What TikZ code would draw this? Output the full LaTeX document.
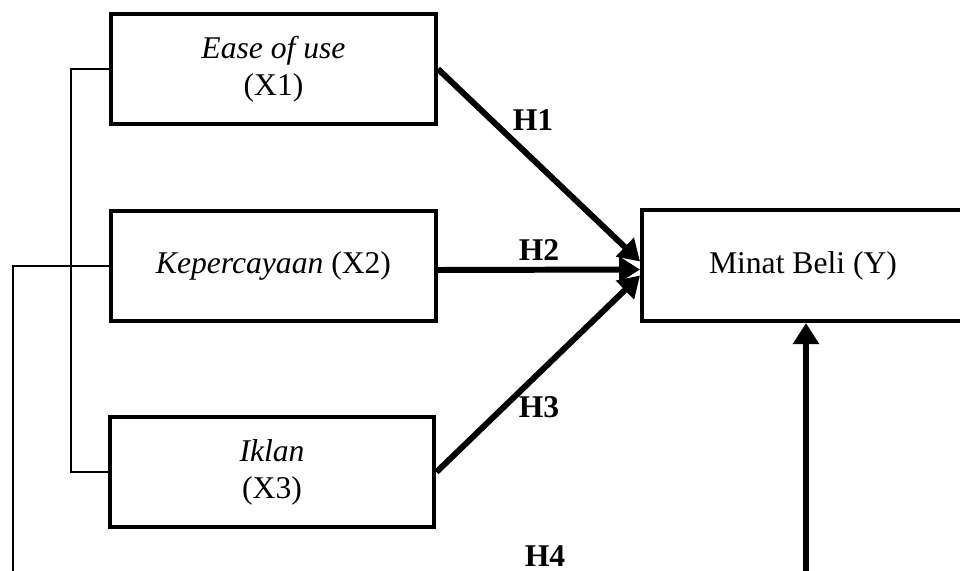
\documentclass[tikz,border=0pt]{standalone}
\usepackage{fontspec}
\setmainfont{Liberation Serif}
\usetikzlibrary{arrows.meta,calc}
\tikzset{
  varbox/.style={draw, line width=2.3pt, minimum width=6.5cm, minimum height=2.2cm,
                 align=center, inner sep=0pt, font=\fontsize{18}{21}\selectfont},
  hyp/.style={line width=3.4pt, -{Triangle[width=0.5cm,length=0.42cm]}},
  link/.style={line width=1.6pt},
  hlab/.style={inner sep=0pt, font=\fontsize{18}{21}\selectfont\bfseries},
}

\begin{document}
\begin{tikzpicture}[x=0.02cm,y=-0.02cm]
\useasboundingbox (0,0) rectangle (960,571);

% variables
\node[varbox] (xa) at (273.5,69) {\textit{Ease of use}\\(X1)};
\node[varbox] (xb) at (273.5,266) {\textit{Kepercayaan} (X2)};
\node[varbox] (xc) at (272,472) {\textit{Iklan}\\(X3)};
\node[varbox, minimum width=6.44cm, minimum height=2.22cm] (y) at (803,265.5) {Minat Beli (Y)};

% hypotheses
\draw[hyp] (xa.east) -- ($(y.west)+(0,-4)$);
\draw[hyp] ($(xb.east)+(0,4)$) -- ($(y.west)+(0,4)$);
\draw[hyp] (xc.east) -- ($(y.west)+(0,10)$);

\node[hlab] (h1) at (533,120) {H1};
\node[hlab] (h2) at (539,250) {H2};
\node[hlab] (h3) at (539,407) {H3};
\node[hlab] (h4) at (545,556) {H4};

% bracket X1--X3
\draw[link] (xa.west) -- ++(-38,0) |- (xc.west);

% X2 down to the bottom, H4 back up
\coordinate (lo) at (13,590);
\coordinate (hi) at (806,590);
\draw[link] (xb.west) -| (lo);
\draw[hyp] (hi) -- (hi |- y.south);
\end{tikzpicture}
\end{document}
